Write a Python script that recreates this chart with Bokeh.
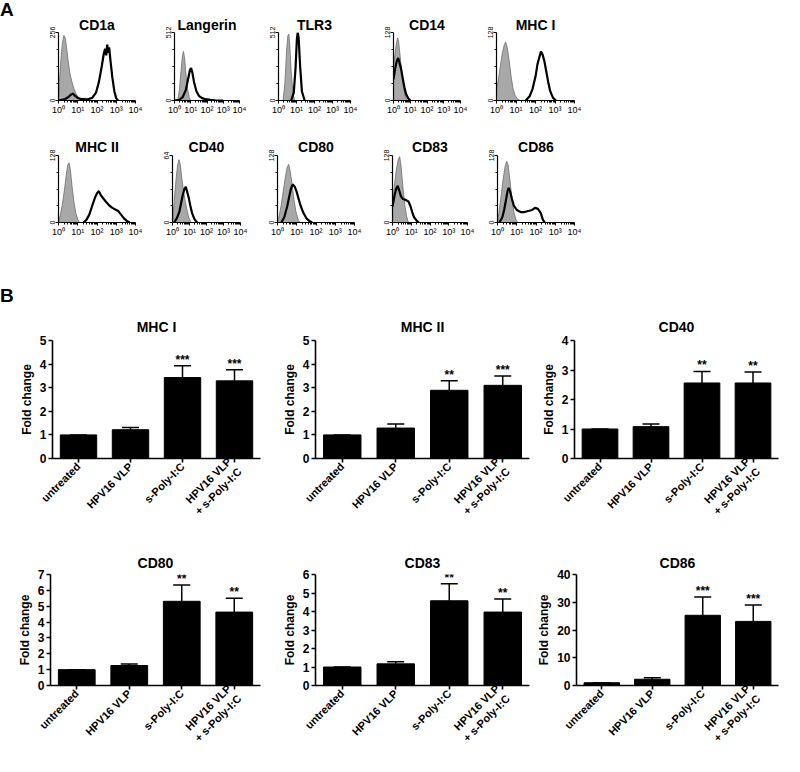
import math
from bokeh.plotting import figure
from bokeh.layouts import column, row
from bokeh.models import FixedTicker, Whisker, TeeHead, ColumnDataSource, FactorRange, Div, Spacer
from bokeh.core.properties import value
from bokeh.embed import file_html
from bokeh.resources import INLINE

FONT = "Liberation Sans"

# ---------------- Panel A: flow cytometry histograms (log10 decade, count) ----------------
hist_names_row1 = ["CD1a", "Langerin", "TLR3", "CD14", "MHC I"]
hist_names_row2 = ["MHC II", "CD40", "CD80", "CD83", "CD86"]
hist_ymax = {"CD1a": 256, "Langerin": 512, "TLR3": 512, "CD14": 128, "MHC I": 128,
             "MHC II": 128, "CD40": 64, "CD80": 128, "CD83": 128, "CD86": 128}

cd1a_ctrl_log = [0.0, 0.05, 0.12, 0.2, 0.28, 0.35, 0.42, 0.5, 0.6, 0.7, 0.8, 0.9, 1.0, 1.1, 1.2]
cd1a_ctrl_cnt = [0, 70, 150, 215, 245, 235, 200, 150, 100, 70, 45, 28, 14, 5, 0]
cd1a_stain_log = [0.0, 0.3, 0.5, 0.65, 0.75, 0.85, 1.0, 1.2, 1.5, 1.75, 1.95, 2.1, 2.25, 2.35, 2.42, 2.48, 2.53, 2.58, 2.63, 2.7, 2.8, 2.9, 3.0, 3.1]
cd1a_stain_cnt = [0, 4, 12, 22, 26, 18, 10, 5, 4, 10, 30, 70, 130, 175, 195, 170, 210, 180, 200, 150, 85, 35, 8, 0]

langerin_ctrl_log = [0.2, 0.3, 0.4, 0.48, 0.55, 0.62, 0.7, 0.8, 0.9, 1.0]
langerin_ctrl_cnt = [0, 80, 220, 330, 370, 320, 200, 90, 25, 0]
langerin_stain_log = [0.0, 0.3, 0.5, 0.7, 0.85, 0.95, 1.02, 1.1, 1.2, 1.35, 1.5, 1.7, 1.9, 2.2, 2.5, 3.0]
langerin_stain_cnt = [0, 5, 25, 80, 170, 230, 245, 210, 140, 70, 35, 18, 10, 5, 2, 0]

tlr3_ctrl_log = [0.25, 0.35, 0.45, 0.52, 0.57, 0.62, 0.7, 0.8, 0.9]
tlr3_ctrl_cnt = [0, 120, 380, 490, 500, 430, 230, 60, 0]
tlr3_stain_log = [0.7, 0.85, 0.95, 1.02, 1.07, 1.12, 1.2, 1.3, 1.45]
tlr3_stain_cnt = [0, 60, 250, 460, 512, 470, 260, 70, 0]

cd14_ctrl_log = [0.0, 0.08, 0.16, 0.24, 0.3, 0.36, 0.44, 0.52, 0.6, 0.7, 0.8]
cd14_ctrl_cnt = [60, 85, 105, 118, 112, 95, 70, 45, 25, 8, 0]
cd14_stain_log = [0.0, 0.1, 0.2, 0.28, 0.35, 0.45, 0.55, 0.65, 0.75, 0.9, 1.0]
cd14_stain_cnt = [40, 60, 75, 80, 72, 60, 42, 25, 12, 3, 0]

mhc1_ctrl_log = [0.0, 0.1, 0.2, 0.3, 0.4, 0.47, 0.55, 0.65, 0.75, 0.85, 0.95, 1.05, 1.2]
mhc1_ctrl_cnt = [20, 40, 65, 90, 105, 110, 100, 75, 45, 22, 10, 4, 0]
mhc1_stain_log = [1.5, 1.7, 1.85, 2.0, 2.1, 2.2, 2.28, 2.35, 2.45, 2.55, 2.65, 2.75, 2.9, 3.05]
mhc1_stain_cnt = [0, 8, 22, 45, 68, 82, 92, 88, 75, 55, 35, 18, 5, 0]

mhc2_ctrl_log = [0.0, 0.1, 0.2, 0.3, 0.4, 0.48, 0.55, 0.62, 0.7, 0.8, 0.9, 1.0, 1.1]
mhc2_ctrl_cnt = [0, 15, 35, 60, 90, 110, 114, 100, 70, 40, 18, 6, 0]
mhc2_stain_log = [1.3, 1.45, 1.6, 1.75, 1.9, 2.0, 2.1, 2.2, 2.35, 2.5, 2.65, 2.8, 2.95, 3.1, 3.25, 3.4, 3.55, 3.7]
mhc2_stain_cnt = [0, 5, 15, 32, 48, 56, 60, 52, 45, 38, 32, 28, 25, 22, 15, 8, 3, 0]

cd40_ctrl_log = [0.0, 0.1, 0.2, 0.3, 0.38, 0.45, 0.55, 0.65, 0.75, 0.85, 0.95, 1.1]
cd40_ctrl_cnt = [0, 20, 40, 55, 60, 56, 42, 30, 20, 12, 5, 0]
cd40_stain_log = [0.1, 0.25, 0.4, 0.5, 0.6, 0.7, 0.78, 0.85, 0.95, 1.05, 1.15, 1.3, 1.45]
cd40_stain_cnt = [0, 4, 10, 18, 26, 32, 34, 30, 24, 16, 9, 3, 0]

cd80_ctrl_log = [0.0, 0.1, 0.2, 0.3, 0.4, 0.5, 0.58, 0.65, 0.75, 0.85, 0.95, 1.05, 1.15]
cd80_ctrl_cnt = [0, 15, 35, 60, 85, 105, 111, 100, 75, 45, 22, 8, 0]
cd80_stain_log = [0.2, 0.35, 0.5, 0.6, 0.7, 0.8, 0.9, 1.0, 1.1, 1.2, 1.35, 1.5, 1.65, 1.8]
cd80_stain_cnt = [0, 10, 30, 48, 65, 73, 68, 58, 45, 32, 18, 8, 3, 0]

cd83_ctrl_log = [0.0, 0.1, 0.2, 0.3, 0.38, 0.45, 0.55, 0.65, 0.75, 0.85]
cd83_ctrl_cnt = [40, 70, 100, 120, 126, 110, 70, 35, 12, 0]
cd83_stain_log = [0.0, 0.1, 0.2, 0.28, 0.35, 0.45, 0.55, 0.65, 0.75, 0.85, 0.95, 1.05, 1.15, 1.3, 1.4]
cd83_stain_cnt = [30, 50, 65, 70, 62, 50, 45, 44, 42, 40, 32, 20, 10, 3, 0]

cd86_ctrl_log = [0.0, 0.1, 0.2, 0.3, 0.4, 0.48, 0.55, 0.65, 0.75, 0.85, 0.95, 1.05]
cd86_ctrl_cnt = [0, 25, 55, 85, 108, 117, 110, 80, 45, 20, 6, 0]
cd86_stain_log = [0.1, 0.25, 0.35, 0.45, 0.52, 0.58, 0.65, 0.75, 0.85, 1.0, 1.2, 1.4, 1.6, 1.8, 1.95, 2.1, 2.25, 2.35, 2.45]
cd86_stain_cnt = [0, 10, 25, 45, 60, 66, 60, 45, 32, 24, 20, 20, 22, 24, 28, 26, 18, 6, 0]

hist_data = {
    "CD1a": (cd1a_ctrl_log, cd1a_ctrl_cnt, cd1a_stain_log, cd1a_stain_cnt),
    "Langerin": (langerin_ctrl_log, langerin_ctrl_cnt, langerin_stain_log, langerin_stain_cnt),
    "TLR3": (tlr3_ctrl_log, tlr3_ctrl_cnt, tlr3_stain_log, tlr3_stain_cnt),
    "CD14": (cd14_ctrl_log, cd14_ctrl_cnt, cd14_stain_log, cd14_stain_cnt),
    "MHC I": (mhc1_ctrl_log, mhc1_ctrl_cnt, mhc1_stain_log, mhc1_stain_cnt),
    "MHC II": (mhc2_ctrl_log, mhc2_ctrl_cnt, mhc2_stain_log, mhc2_stain_cnt),
    "CD40": (cd40_ctrl_log, cd40_ctrl_cnt, cd40_stain_log, cd40_stain_cnt),
    "CD80": (cd80_ctrl_log, cd80_ctrl_cnt, cd80_stain_log, cd80_stain_cnt),
    "CD83": (cd83_ctrl_log, cd83_ctrl_cnt, cd83_stain_log, cd83_stain_cnt),
    "CD86": (cd86_ctrl_log, cd86_ctrl_cnt, cd86_stain_log, cd86_stain_cnt),
}
x_tick_labels = {1.0: "10\u2070", 10.0: "10\u00b9", 100.0: "10\u00b2", 1000.0: "10\u00b3", 10000.0: "10\u2074"}

# ---------------- Panel B: fold change bar charts ----------------
categories = ["untreated", "HPV16 VLP", "s-Poly-I:C", "HPV16 VLP\n+ s-Poly-I:C"]
bar_names_row1 = ["MHC I", "MHC II", "CD40"]
bar_names_row2 = ["CD80", "CD83", "CD86"]
mhc1_mean = [1.0, 1.22, 3.43, 3.29]
mhc1_sem = [0.0, 0.09, 0.50, 0.47]
mhc1_sig = ["", "", "***", "***"]
mhc2_mean = [1.0, 1.29, 2.89, 3.10]
mhc2_sem = [0.0, 0.17, 0.40, 0.40]
mhc2_sig = ["", "", "**", "***"]
cd40_mean = [1.0, 1.08, 2.56, 2.56]
cd40_sem = [0.0, 0.09, 0.39, 0.37]
cd40_sig = ["", "", "**", "**"]
cd80_mean = [1.0, 1.26, 5.31, 4.63]
cd80_sem = [0.0, 0.10, 1.03, 0.87]
cd80_sig = ["", "", "**", "**"]
cd83_mean = [1.0, 1.17, 4.58, 3.97]
cd83_sem = [0.0, 0.11, 0.92, 0.70]
cd83_sig = ["", "", "**", "**"]
cd86_mean = [1.0, 2.25, 25.3, 23.1]
cd86_sem = [0.0, 0.55, 6.6, 5.9]
cd86_sig = ["", "", "***", "***"]
bar_ymax = {"MHC I": 5, "MHC II": 5, "CD40": 4, "CD80": 7, "CD83": 6, "CD86": 40}
bar_yticks = {"MHC I": [0, 1, 2, 3, 4, 5], "MHC II": [0, 1, 2, 3, 4, 5], "CD40": [0, 1, 2, 3, 4],
              "CD80": [0, 1, 2, 3, 4, 5, 6, 7], "CD83": [0, 1, 2, 3, 4, 5, 6], "CD86": [0, 10, 20, 30, 40]}
bar_data = {
    "MHC I": (mhc1_mean, mhc1_sem, mhc1_sig), "MHC II": (mhc2_mean, mhc2_sem, mhc2_sig),
    "CD40": (cd40_mean, cd40_sem, cd40_sig), "CD80": (cd80_mean, cd80_sem, cd80_sig),
    "CD83": (cd83_mean, cd83_sem, cd83_sig), "CD86": (cd86_mean, cd86_sem, cd86_sig),
}


def style_title(p, standoff):
    p.title.text_font = FONT
    p.title.text_font_size = "14px"
    p.title.text_font_style = "bold"
    p.title.text_color = "black"
    p.title.align = "center"
    p.title.standoff = standoff


def hist_fig(name, left, frame_w, right, top, frame_h, bottom, standoff):
    ctrl_log, ctrl_cnt, stain_log, stain_cnt = hist_data[name]
    ymax = hist_ymax[name]
    p = figure(width=left + frame_w + right, height=top + frame_h + bottom,
               x_axis_type="log", x_range=(1, 10000), y_range=(0, ymax),
               min_border_left=left, min_border_right=right, min_border_top=top,
               min_border_bottom=bottom, output_backend="svg", toolbar_location=None,
               title=name)
    cx = [10 ** v for v in ctrl_log]
    sx = [10 ** v for v in stain_log]
    p.varea(x=cx, y1=0, y2=ctrl_cnt, fill_color="#a8a8a8")
    p.line(x=cx, y=ctrl_cnt, line_color="#6e6e6e", line_width=0.8)
    p.line(x=sx, y=stain_cnt, line_color="black", line_width=2.2)
    style_title(p, standoff)
    p.xgrid.visible = False
    p.ygrid.visible = False
    p.outline_line_color = None
    minors = [k * 10 ** e for e in range(4) for k in range(2, 10)]
    p.xaxis.ticker = FixedTicker(ticks=[1, 10, 100, 1000, 10000], minor_ticks=minors)
    p.xaxis.major_label_overrides = x_tick_labels
    p.yaxis.ticker = FixedTicker(ticks=[0, ymax], minor_ticks=[ymax / 4, ymax / 2, 3 * ymax / 4])
    p.yaxis.major_label_orientation = "vertical"
    for ax in (p.xaxis, p.yaxis):
        ax.axis_line_width = 1.2
        ax.major_tick_out = 3
        ax.major_tick_in = 0
        ax.minor_tick_out = 2
        ax.minor_tick_in = 0
        ax.major_label_standoff = 1
        ax.major_label_text_font = FONT
        ax.major_label_text_font_size = "9px"
        ax.major_label_text_color = "black"
    p.yaxis.major_label_text_font_size = "7px"
    return p


def bar_fig(name, left, frame_w, right, top, frame_h, bottom, standoff):
    means, sems, sig = bar_data[name]
    upper = [m + s for m, s in zip(means, sems)]
    src = ColumnDataSource(dict(cat=categories, mean=means, upper=upper, sig=sig))
    p = figure(width=left + frame_w + right, height=top + frame_h + bottom,
               x_range=FactorRange(*categories), y_range=(0, bar_ymax[name]),
               min_border_left=left, min_border_right=right, min_border_top=top,
               min_border_bottom=bottom, output_backend="svg", toolbar_location=None,
               title=name)
    p.x_range.range_padding = 0
    p.vbar(x="cat", top="mean", width=0.7, source=src, fill_color="black", line_color="black")
    w = Whisker(base="cat", lower="mean", upper="upper", source=src, line_width=1.5,
                upper_head=TeeHead(size=17, line_width=1.5), lower_head=None, level="glyph")
    p.add_layout(w)
    p.text(x="cat", y="upper", text="sig", source=src, text_align="center",
           text_baseline="bottom", text_font=value(FONT), text_font_size="12px",
           text_font_style="bold", y_offset=1)
    style_title(p, standoff)
    p.xgrid.visible = False
    p.ygrid.visible = False
    p.outline_line_color = None
    p.yaxis.ticker = FixedTicker(ticks=bar_yticks[name])
    p.yaxis.axis_label = "Fold change"
    p.yaxis.axis_label_text_font = FONT
    p.yaxis.axis_label_text_font_size = "12px"
    p.yaxis.axis_label_text_font_style = "bold"
    p.yaxis.axis_label_text_color = "black"
    p.yaxis.axis_label_standoff = 3
    p.xaxis.major_label_orientation = math.pi / 4
    for ax in (p.xaxis, p.yaxis):
        ax.axis_line_width = 1.6
        ax.major_tick_line_width = 1.6
        ax.major_tick_out = 4
        ax.major_tick_in = 0
        ax.minor_tick_line_color = None
        ax.major_label_standoff = 2
        ax.major_label_text_font = FONT
        ax.major_label_text_font_size = "11px"
        ax.major_label_text_font_style = "bold"
        ax.major_label_text_color = "black"
    p.yaxis.major_label_text_font_size = "12px"
    return p


def panel_letter(letter, height):
    return Div(text=letter, width=16, height=height, margin=(0, 0, 0, 0),
               styles={"font-family": FONT, "font-size": "19px", "font-weight": "bold",
                       "line-height": "20px", "color": "black"})


# geometry: (left border, frame width, right border)
h1_geo = [(42, 77, 17), (22, 65, 21), (18, 72, 22), (21, 67, 20), (16, 78, 18)]
h2_geo = [(58, 77, 17), (20, 68, 20), (17, 77, 18), (20, 75, 13), (17, 77, 18)]
hist_row1 = [hist_fig(n, *g, 32, 68, 20, 0) for n, g in zip(hist_names_row1, h1_geo)]
hist_row2 = [hist_fig(n, *g, 35, 67, 22, 1) for n, g in zip(hist_names_row2, h2_geo)]

b1_geo = [(34, 210, 12), (43, 214, 5), (40, 204, 6)]
b2_geo = [(50, 210, 12), (43, 214, 5), (40, 204, 6)]
bar_row1 = [bar_fig(n, *g, 54, 118, 82, 11) for n, g in zip(bar_names_row1, b1_geo)]
bar_row2 = [bar_fig(n, *g, 34, 118, 64, 7) for n, g in zip(bar_names_row2, b2_geo)]

layout = column(row(panel_letter("A", 120), *hist_row1, spacing=0),
                row(*hist_row2, spacing=0),
                Spacer(height=42),
                row(panel_letter("B", 254), *bar_row1, spacing=0),
                row(*bar_row2, spacing=0), spacing=0)

open("out.html", "w").write(file_html(layout, INLINE))
